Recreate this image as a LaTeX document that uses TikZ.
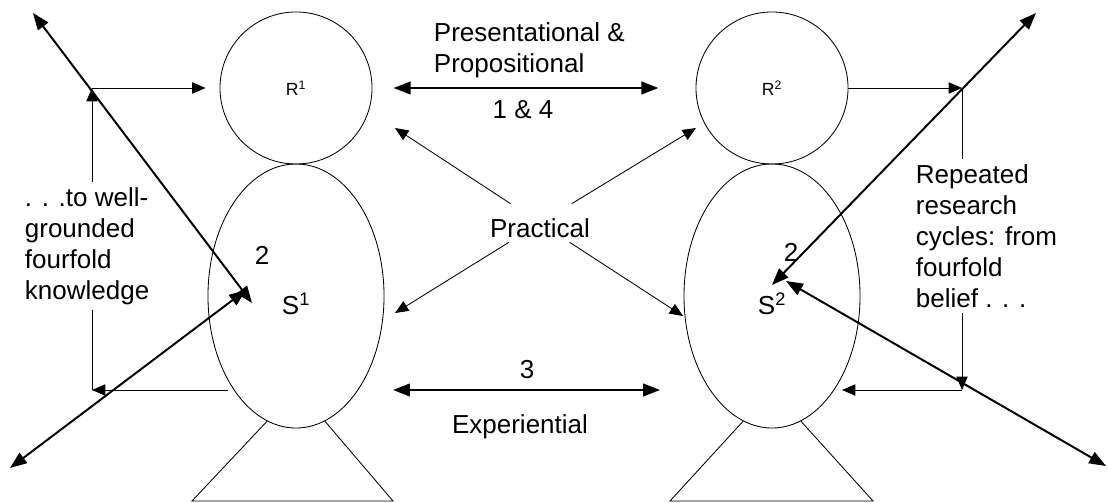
\documentclass[tikz,border=0pt]{standalone}
\usepackage{fontspec}
\setmainfont{Liberation Sans}
\usetikzlibrary{arrows.meta,shapes.geometric}

\begin{document}
\begin{tikzpicture}[x=0.025cm, y=-0.025cm,
    every node/.style={font=\fontsize{18.5pt}{22pt}\selectfont},
    head/.style={draw, circle, minimum size=3.8cm, inner sep=0pt, line width=0.6pt,
        font=\fontsize{12.5pt}{14pt}\selectfont},
    body/.style={draw, ellipse, minimum width=4.4cm, minimum height=6.6cm, inner sep=0pt, line width=0.6pt,
        text height=26pt, text depth=0pt},
    plain/.style={line width=0.6pt},
    link/.style={-{Triangle[length=9.5pt,width=8pt]}, line width=0.6pt},
    bold/.style={{Triangle[length=12pt,width=9pt]}-{Triangle[length=12pt,width=9pt]}, line width=1.4pt},
    note/.style={align=left, inner sep=4pt}]
    \useasboundingbox (0,0) rectangle (1108,503);

    % --- Hai người: đầu R và thân S ---
    \node[head] (r1) at (296,88) {R\textsuperscript{1}};
    \node[head] (r2) at (772,88) {R\textsuperscript{2}};
    \node[body] (s1) at (296,296) {S\textsuperscript{1}};
    \node[body] (s2) at (772,296) {S\textsuperscript{2}};
    \node (n1) at (262,255) {2};
    \node (n2) at (791,252) {2};

    % --- Chân (hình thang) ---
    \draw[plain] (s1.-103) -- (192,501) -- (393,501) -- (s1.-77);
    \draw[plain] (s2.-103) -- (670,501) -- (873,501) -- (s2.-77);

    % --- Các mũi tên chéo đậm ---
    \coordinate (a1) at (33,13);
    \coordinate (a2) at (252,303);
    \coordinate (b1) at (10,468);
    \coordinate (b2) at (246,290);
    \coordinate (c1) at (1036,13);
    \coordinate (c2) at (772,285);
    \coordinate (d1) at (1106,466);
    \coordinate (d2) at (786,281);
    \draw[bold] (a1) -- (a2);
    \draw[bold] (b1) -- (b2);
    \draw[bold] (c1) -- (c2);
    \draw[bold] (d1) -- (d2);

    % --- Vòng bên trái ---
    \node[note, anchor=west] (ltext) at (19,246) {. . .to well-\\grounded\\fourfold\\knowledge};
    \coordinate (lc1) at (92,390);
    \coordinate (lc2) at (92,88);
    \coordinate (ls) at (228,390);
    \draw[link] (ls) -- (lc1);
    \draw[plain] (lc1) -- (ltext.south -| lc1);
    \draw[link] (ltext.north -| lc2) -- (lc2);
    \draw[link, shorten >=0.35cm] (lc2) -- (r1);

    % --- Vòng bên phải ---
    \node[note, anchor=west] (rtext) at (910,236) {Repeated\\research\\cycles: from\\fourfold\\belief . . .};
    \coordinate (rc1) at (962,88);
    \coordinate (rc2) at (962,390);
    \coordinate (re) at (842,390);
    \draw[link] (r2) -- (rc1);
    \draw[plain] (rc1) -- (rtext.north -| rc1);
    \draw[link] (rtext.south -| rc2) -- (rc2);
    \draw[link] (rc2) -- (re);

    % --- Ở giữa ---
    \node[note, anchor=west] (pp) at (428,50) {Presentational \&\\Propositional};
    \draw[bold, shorten <=0.53cm, shorten >=0.93cm] (r1) -- (r2);
    \node (k14) at (523,110) {1 \& 4};

    \node[text height=24pt, text depth=3pt, inner sep=0pt] (prac) at (540,223) {Practical};
    \coordinate (p1) at (395,128);
    \coordinate (p2) at (696,128);
    \coordinate (p3) at (395,313);
    \coordinate (p4) at (683,316);
    \draw[link] (prac) -- (p1);
    \draw[link] (prac) -- (p2);
    \draw[link] (prac) -- (p3);
    \draw[link] (prac) -- (p4);

    \coordinate (e1) at (393,390);
    \coordinate (e2) at (660,390);
    \draw[bold] (e1) -- (e2);
    \node (k3) at (527,370) {3};
    \node (exp) at (520,427) {Experiential};
\end{tikzpicture}
\end{document}
